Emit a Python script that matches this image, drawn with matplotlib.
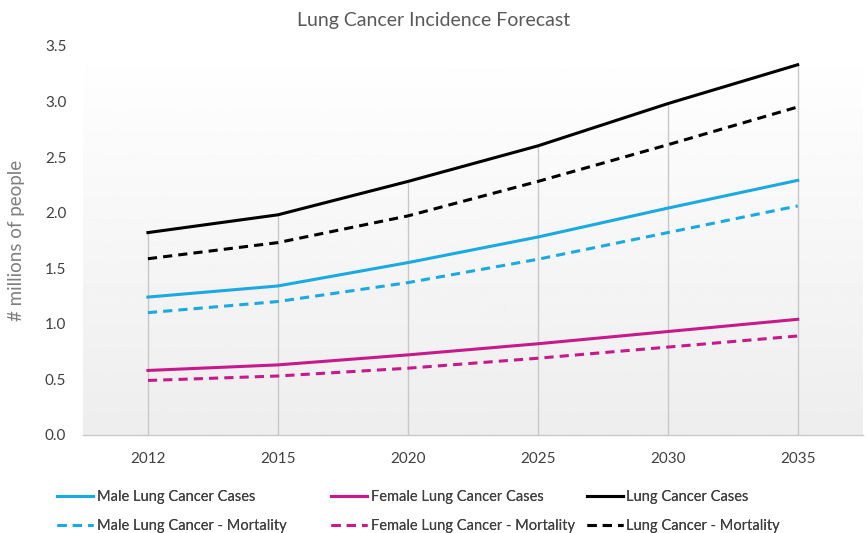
import matplotlib.pyplot as plt
import numpy as np

# data
years = ["2012", "2015", "2020", "2025", "2030", "2035"]
male_cases = [1.24, 1.34, 1.55, 1.78, 2.04, 2.29]
male_mort = [1.10, 1.20, 1.37, 1.58, 1.82, 2.06]
female_cases = [0.58, 0.63, 0.72, 0.82, 0.93, 1.04]
female_mort = [0.49, 0.53, 0.60, 0.69, 0.79, 0.89]
total_cases = [1.82, 1.98, 2.28, 2.60, 2.98, 3.33]
total_mort = [1.585, 1.73, 1.97, 2.28, 2.61, 2.95]

BLUE = "#1AA9E1"
PINK = "#C8198C"
BLACK = "#000000"

plt.rcParams['font.family'] = ['Lato', 'DejaVu Sans']

fig = plt.figure(figsize=(8.67, 5.33), dpi=100)
ax = fig.add_axes([0.0957, 0.184, 0.8993, 0.730])

x = np.arange(len(years))

# gradient background (white at top, light gray at bottom)
grad = np.linspace(1.0, 0.93, 256).reshape(-1, 1)
ax.imshow(grad, cmap="gray", vmin=0, vmax=1, aspect="auto",
          extent=(-0.5, len(years) - 0.5, 0, 3.5), zorder=0)

# drop lines from highest series down to the axis
ax.vlines(x, 0, total_cases, color="#c8c8c8", linewidth=1, zorder=1)

lines = []
lines += ax.plot(x, male_cases, color=BLUE, lw=2.2, label="Male Lung Cancer Cases", zorder=3)
lines += ax.plot(x, male_mort, color=BLUE, lw=2.2, ls=(0, (3, 2)), label="Male Lung Cancer - Mortality", zorder=3)
lines += ax.plot(x, female_cases, color=PINK, lw=2.2, label="Female Lung Cancer Cases", zorder=3)
lines += ax.plot(x, female_mort, color=PINK, lw=2.2, ls=(0, (3, 2)), label="Female Lung Cancer - Mortality", zorder=3)
lines += ax.plot(x, total_cases, color=BLACK, lw=2.2, label="Lung Cancer Cases", zorder=3)
lines += ax.plot(x, total_mort, color=BLACK, lw=2.2, ls=(0, (3, 2)), label="Lung Cancer - Mortality", zorder=3)

ax.set_xlim(-0.5, len(years) - 0.5)
ax.set_ylim(0, 3.5)
ax.set_xticks(x)
ax.set_xticklabels(years)
ax.set_yticks(np.arange(0, 3.51, 0.5))
ax.set_yticklabels([f"{v:.1f}" for v in np.arange(0, 3.51, 0.5)])
ax.tick_params(length=0, labelsize=11, colors="#404040")
ax.tick_params(axis="x", pad=12)
ax.tick_params(axis="y", pad=12)

for s in ["top", "right", "left"]:
    ax.spines[s].set_visible(False)
ax.spines["bottom"].set_color("#c8c8c8")
ax.spines["bottom"].set_linewidth(1)

ax.set_ylabel("# millions of people", color="#7f7f7f", fontsize=13.5, labelpad=14)
fig.text(0.5, 0.962, "Lung Cancer Incidence Forecast", ha="center", va="center",
         color="#595959", fontsize=14)

# three legend columns placed like the original
col_x = [0.066, 0.382, 0.677]
for i, cx in enumerate(col_x):
    leg = fig.legend(handles=lines[2 * i:2 * i + 2], loc="lower left",
                     bbox_to_anchor=(cx, 0.0), ncol=1, frameon=False,
                     fontsize=10.5, labelcolor="#404040", handlelength=2.45,
                     handletextpad=0.25, labelspacing=1.0, borderaxespad=0.0,
                     borderpad=0.0)
    fig.add_artist(leg)

fig.savefig("out.png", dpi=100)
